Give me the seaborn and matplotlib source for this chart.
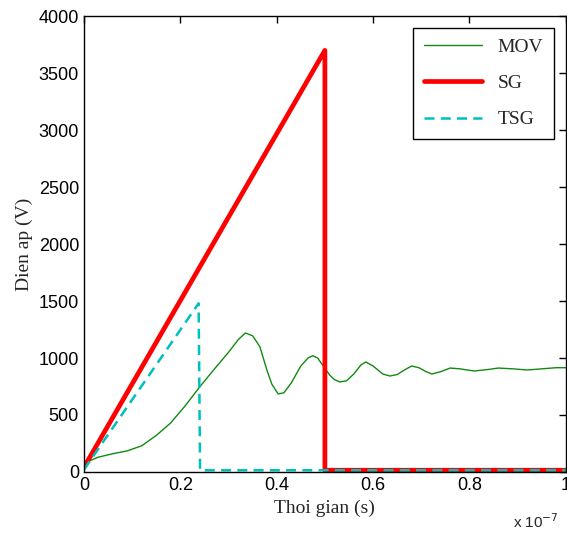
import matplotlib
matplotlib.use("Agg")
import matplotlib.pyplot as plt
import matplotlib.ticker as mticker
import seaborn as sns

# time in units of 1e-7 s
mov_t = [0, 0.01, 0.03, 0.06, 0.09, 0.12, 0.15, 0.18, 0.21, 0.24, 0.27, 0.30,
         0.32, 0.335, 0.35, 0.365, 0.38, 0.39, 0.403, 0.415, 0.43, 0.45, 0.465,
         0.475, 0.485, 0.50, 0.51, 0.52, 0.531, 0.545, 0.56, 0.575, 0.585, 0.60,
         0.62, 0.635, 0.65, 0.665, 0.68, 0.695, 0.71, 0.722, 0.74, 0.76, 0.78,
         0.81, 0.84, 0.86, 0.89, 0.92, 0.95, 0.98, 1.0]
mov_v = [50, 95, 130, 160, 185, 230, 320, 430, 580, 745, 900, 1050,
         1160, 1220, 1195, 1100, 890, 770, 685, 695, 780, 930, 1000,
         1020, 1000, 910, 850, 810, 790, 800, 860, 940, 965, 930,
         860, 842, 855, 895, 930, 915, 880, 860, 880, 912, 905,
         886, 900, 912, 905, 895, 905, 915, 915]

sg_t = [0, 0.5, 0.5, 1.0]
sg_v = [40, 3700, 15, 15]

tsg_t = [0, 0.238, 0.241, 1.0]
tsg_v = [20, 1480, 15, 15]

x_ticks = [0, 0.2, 0.4, 0.6, 0.8, 1]
y_ticks = list(range(0, 4001, 500))

sns.set_style("white")
plt.rcParams["font.family"] = ["Liberation Sans", "DejaVu Sans"]

fig = plt.figure(figsize=(5.67, 5.4), dpi=100)
ax = fig.add_axes([0.148, 0.126, 0.85, 0.844])

sns.lineplot(x=mov_t, y=mov_v, estimator=None, sort=False, color="#108a10",
             linewidth=1.0, label="MOV", ax=ax)
sns.lineplot(x=sg_t, y=sg_v, estimator=None, sort=False, color="#ff0000",
             linewidth=3.4, label="SG", ax=ax)
sns.lineplot(x=tsg_t, y=tsg_v, estimator=None, sort=False, color="#00bfbf",
             linewidth=1.8, label="TSG", ax=ax)
ax.lines[2].set_dashes([4, 2.5])

ax.set_xlim(0, 1)
ax.set_ylim(0, 4000)
ax.set_xticks(x_ticks)
ax.set_yticks(y_ticks)
ax.xaxis.set_major_formatter(mticker.FuncFormatter(lambda v, p: f"{v:g}"))
ax.tick_params(direction="in", top=True, right=True, length=5, width=1,
               labelsize=13, colors="black")
for s in ax.spines.values():
    s.set_color("black")
    s.set_linewidth(1)

ax.set_xlabel("Thoi gian (s)", family="Liberation Serif", fontsize=14)
ax.set_ylabel("Dien ap (V)", family="Liberation Serif", fontsize=14)
ax.text(0.985, -0.11, "x 10$^{-7}$", transform=ax.transAxes, ha="right",
        va="center", fontsize=11)

leg = ax.legend(loc="upper right", prop={"family": "Liberation Serif", "size": 14},
                frameon=True, fancybox=False, handlelength=3.0,
                labelspacing=0.95, borderpad=0.55,
                borderaxespad=0.6, edgecolor="black", framealpha=1)
leg.get_frame().set_linewidth(1)
leg.get_lines()[2].set_dashes([4, 2.5])

fig.savefig("out.png", dpi=100)
